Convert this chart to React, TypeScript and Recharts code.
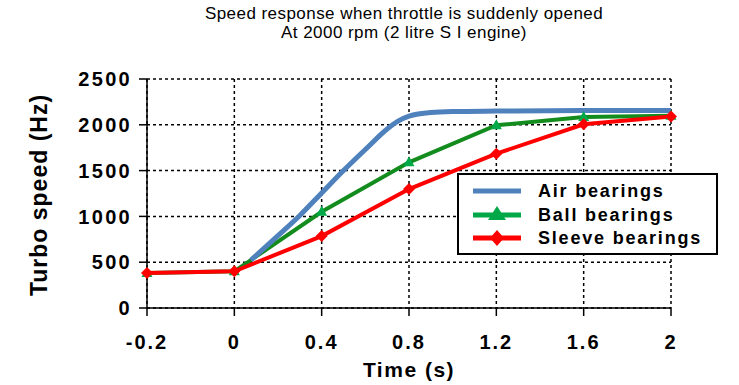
import { LineChart, Line, XAxis, YAxis, CartesianGrid } from "recharts";

// x positions follow Excel's category spacing: -0.2 and 0 are one step apart, then 0.4 per step
const timeLabels = ["-0.2", "0", "0.4", "0.8", "1.2", "1.6", "2"];
const markerTimes = [-0.2, 0, 0.4, 0.8, 1.2, 1.6, 2];
const ballValues = [383, 400, 1050, 1590, 1995, 2085, 2100];
const sleeveValues = [383, 400, 785, 1298, 1685, 2005, 2090];
const airTimes = [0.076, 0.2, 0.3, 0.4, 0.5, 0.6, 0.7, 0.75, 0.8, 0.9, 1.0, 1.2, 1.6, 2];
const airValues = [522, 790, 1010, 1255, 1500, 1730, 1955, 2040, 2095, 2135, 2145, 2150, 2155, 2155];
const speedTicks = [0, 500, 1000, 1500, 2000, 2500];

const toIdx = (t: number) => (t <= 0 ? 1 + t / 0.2 : 1 + t / 0.4);

const ballData = markerTimes.map((t, i) => ({ x: toIdx(t), v: ballValues[i] }));
const sleeveData = markerTimes.map((t, i) => ({ x: toIdx(t), v: sleeveValues[i] }));
const airData = airTimes.map((t, i) => ({ x: toIdx(t), v: airValues[i] }));

const BLUE = "#4F81BD";
const GREEN_LINE = "#138C1E";
const GREEN = "#00A848";
const RED = "#FF0000";
const FONT = "'Liberation Sans', Arial, sans-serif";

const Triangle = (props: any) => {
  const { cx, cy } = props;
  if (cx == null || cy == null) return null;
  return <path d={`M${cx},${cy - 6} L${cx + 5.5},${cy + 4} L${cx - 5.5},${cy + 4} Z`} fill={GREEN} />;
};

const Diamond = (props: any) => {
  const { cx, cy } = props;
  if (cx == null || cy == null) return null;
  return <path d={`M${cx},${cy - 6} L${cx + 6},${cy} L${cx},${cy + 6} L${cx - 6},${cy} Z`} fill={RED} />;
};

const legendItems = [
  { name: "Air bearings", color: BLUE, marker: "none" },
  { name: "Ball bearings", color: GREEN, marker: "triangle" },
  { name: "Sleeve bearings", color: RED, marker: "diamond" },
];

export default function App() {
  return (
    <div style={{ position: "absolute", left: 0, top: 0, width: 739, height: 385, background: "#fff", fontFamily: FONT }}>
      <div style={{ position: "absolute", left: 184, width: 440, top: 4, textAlign: "center", fontSize: 17, lineHeight: "19px", letterSpacing: 0.45, color: "#000" }}>
        <div>Speed response when throttle is suddenly opened</div>
        <div>At 2000 rpm (2 litre S I engine)</div>
      </div>
      <LineChart width={739} height={385} margin={{ top: 79, right: 68, bottom: 0, left: 0 }}>
        <CartesianGrid stroke="#000" strokeWidth={1.5} strokeDasharray="3 3" />
        <XAxis
          type="number"
          dataKey="x"
          domain={[0, 6]}
          ticks={[0, 1, 2, 3, 4, 5, 6]}
          tickFormatter={(v: number) => timeLabels[v]}
          height={77}
          tickSize={8}
          axisLine={{ stroke: "#000", strokeWidth: 1.5 }}
          tickLine={{ stroke: "#000", strokeWidth: 1.5 }}
          tick={{ fill: "#000", fontSize: 20, fontWeight: "bold", fontFamily: FONT, letterSpacing: 2, dy: 17 }}
          label={{ value: "Time (s)", position: "insideBottom", offset: 8, fill: "#000", fontSize: 21, fontWeight: "bold", fontFamily: FONT, letterSpacing: 1.5 }}
        />
        <YAxis
          type="number"
          domain={[0, 2500]}
          ticks={speedTicks}
          width={147}
          tickSize={8}
          axisLine={{ stroke: "#000", strokeWidth: 1.5 }}
          tickLine={{ stroke: "#000", strokeWidth: 1.5 }}
          tick={{ fill: "#000", fontSize: 20, fontWeight: "bold", fontFamily: FONT, letterSpacing: 2.3, dx: -5 }}
        />
        <Line data={ballData} dataKey="v" type="linear" stroke={GREEN_LINE} strokeWidth={4} dot={<Triangle />} activeDot={false} isAnimationActive={false} />
        <Line data={sleeveData} dataKey="v" type="linear" stroke={RED} strokeWidth={4} dot={<Diamond />} activeDot={false} isAnimationActive={false} />
        <Line data={airData} dataKey="v" type="monotone" stroke={BLUE} strokeWidth={5} dot={false} activeDot={false} isAnimationActive={false} />
      </LineChart>
      <div
        style={{
          position: "absolute",
          left: 39 - 120,
          top: 195 - 14,
          width: 240,
          height: 28,
          lineHeight: "28px",
          textAlign: "center",
          transform: "rotate(-90deg)",
          fontSize: 23,
          fontWeight: "bold",
          letterSpacing: 1,
          whiteSpace: "nowrap",
          color: "#000",
        }}
      >
        Turbo speed (Hz)
      </div>
      <div style={{ position: "absolute", left: 457, top: 173, width: 257, height: 78, border: "2px solid #000", background: "#fff" }}>
        {legendItems.map((it, i) => (
          <div key={it.name} style={{ position: "absolute", left: 0, top: 4 + i * 23.5, height: 24, width: 255 }}>
            <svg width={60} height={24} style={{ position: "absolute", left: 10, top: 0 }}>
              <line x1={4} x2={52} y1={12} y2={12} stroke={it.color} strokeWidth={5} />
              {it.marker === "triangle" && <path d="M28,3 L37,17 L19,17 Z" fill={it.color} />}
              {it.marker === "diamond" && <path d="M28,4 L35,12 L28,20 L21,12 Z" fill={it.color} />}
            </svg>
            <div style={{ position: "absolute", left: 79, top: 1, fontSize: 18, fontWeight: "bold", lineHeight: "22px", letterSpacing: 1.8, whiteSpace: "nowrap" }}>
              {it.name}
            </div>
          </div>
        ))}
      </div>
    </div>
  );
}
